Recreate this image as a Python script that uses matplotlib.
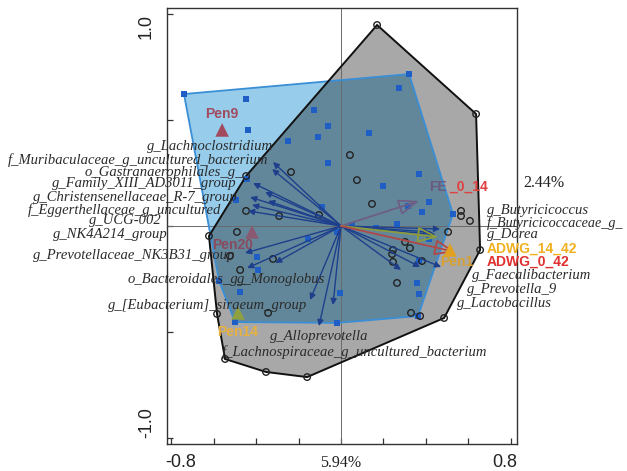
import matplotlib
matplotlib.use('Agg')
import matplotlib.pyplot as plt
import numpy as np

# sample scores, group A (blue squares)
sq_x = [-0.741, -0.448, -0.439, -0.127, -0.061, -0.108, -0.250, -0.061, -0.443,
        0.321, 0.274, 0.132, 0.368, 0.198, 0.415, 0.316, 0.382, 0.528, 0.264,
        0.165, 0.052, 0.415, -0.495, -0.090, -0.019, -0.156, -0.396, -0.392,
        -0.575, -0.476, -0.005, -0.500, -0.019, 0.368, 0.358, 0.368, 0.363]
sq_y = [0.621, 0.598, 0.452, 0.546, 0.471, 0.419, 0.400, 0.296, 0.221,
        0.715, 0.649, 0.438, 0.245, 0.188, 0.113, 0.094, 0.066, 0.056, 0.009,
        -0.009, 0.005, -0.061, 0.122, 0.089, -0.028, -0.061, -0.146, -0.207,
        -0.259, -0.311, -0.315, -0.452, -0.456, -0.165, -0.268, -0.320, -0.424]

# sample scores, group B (open circles)
ci_x = [0.170, 0.637, 0.042, -0.236, -0.448, 0.075, -0.448, -0.292, -0.104,
        -0.623, -0.491, -0.524, -0.321, -0.476, -0.585, -0.344, 0.146, 0.566,
        0.566, 0.608, 0.505, 0.302, 0.325, 0.245, 0.241, 0.382, 0.245, 0.264,
        0.330, 0.373, 0.486, 0.656, -0.547, -0.354, -0.160]
ci_y = [0.946, 0.527, 0.334, 0.254, 0.235, 0.216, 0.071, 0.047, 0.052,
        -0.047, -0.028, -0.141, -0.155, -0.207, -0.414, -0.409, 0.104, 0.071,
        0.047, 0.024, -0.028, -0.075, -0.104, -0.113, -0.132, -0.165, -0.169,
        -0.268, -0.409, -0.424, -0.433, -0.113, -0.626, -0.687, -0.711]

# species arrows
species = ['g_Lachnoclostridium', 'f_Muribaculaceae_g_uncultured_bacterium',
           'o_Gastranaerophilales_g_', 'g_Family_XIII_AD3011_group',
           'g_Christensenellaceae_R-7_group', 'f_Eggerthellaceae_g_uncultured',
           'g_UCG-002', 'g_NK4A214_group', 'g_Prevotellaceae_NK3B31_group',
           'o_Bacteroidales_g_', 'g_Monoglobus', 'g_[Eubacterium]_siraeum_group',
           'g_Alloprevotella', 'f_Lachnospiraceae_g_uncultured_bacterium',
           'g_Butyricicoccus', 'f_Butyricicoccaceae_g_', 'g_Dorea',
           'g_Faecalibacterium', 'g_Prevotella_9', 'g_Lactobacillus']
sp_x = [-0.321, -0.325, -0.415, -0.358, -0.429, -0.344, -0.420, -0.439,
        -0.453, -0.443, -0.311, -0.146, -0.038, -0.104,
        0.467, 0.420, 0.445, 0.472, 0.373, 0.283]
sp_y = [0.301, 0.268, 0.202, 0.160, 0.136, 0.118, 0.099, 0.071,
        -0.127, -0.198, -0.174, -0.348, -0.372, -0.471,
        -0.014, -0.028, -0.040, -0.193, -0.193, -0.207]

# environmental arrows
env = ['FE_0_14', 'ADWG_14_42', 'ADWG_0_42']
env_x = [0.368, 0.458, 0.538]
env_y = [0.118, -0.052, -0.122]

# supplementary samples (triangles)
pens = ['Pen9', 'Pen20', 'Pen14', 'Pen1']
pen_x = [-0.561, -0.420, -0.486, 0.514]
pen_y = [0.452, -0.028, -0.409, -0.113]


def hull(xs, ys):
    pts = sorted(set(zip(xs, ys)))

    def cross(o, a, b):
        return (a[0] - o[0]) * (b[1] - o[1]) - (a[1] - o[1]) * (b[0] - o[0])

    lower, upper = [], []
    for p in pts:
        while len(lower) >= 2 and cross(lower[-2], lower[-1], p) <= 0:
            lower.pop()
        lower.append(p)
    for p in reversed(pts):
        while len(upper) >= 2 and cross(upper[-2], upper[-1], p) <= 0:
            upper.pop()
        upper.append(p)
    return np.array(lower[:-1] + upper[:-1])


fig = plt.figure(figsize=(6.27, 4.71), dpi=100)
ax = fig.add_axes([167 / 627, 1 - 444 / 471, 350 / 627, 436 / 471])
ax.set_xlim(-0.821, 0.830)
ax.set_ylim(-1.026, 1.026)

# group envelopes
hb = hull(sq_x, sq_y)
hg = hull(ci_x, ci_y)
ax.fill(hb[:, 0], hb[:, 1], color='#97cdeb', zorder=1, lw=0)
ax.fill(hg[:, 0], hg[:, 1], color='black', alpha=0.34, zorder=2, lw=0)
ax.fill(hb[:, 0], hb[:, 1], fc='none', ec='#3a8ed6', lw=1.3, zorder=3)
ax.fill(hg[:, 0], hg[:, 1], fc='none', ec='#111111', lw=1.4, zorder=3)

ax.axvline(0, color='#6a6a6a', lw=0.7, zorder=2.5)
ax.axhline(0, color='#6a6a6a', lw=0.7, zorder=2.5)

ax.scatter(sq_x, sq_y, marker='s', s=16, color='#1f5ec4', lw=0, zorder=4)
ax.scatter(ci_x, ci_y, marker='o', s=22, facecolor='none', edgecolor='#222222',
           lw=1.0, zorder=4)

# species arrows
for x, y in zip(sp_x, sp_y):
    ax.annotate('', xy=(x, y), xytext=(0, 0), zorder=5,
                arrowprops=dict(arrowstyle='-|>', color='#1d3f8c', lw=1.0,
                                mutation_scale=9, shrinkA=0, shrinkB=0))

env_cols = ['#6e5e86', '#8c9c3c', '#b04848']
for x, y, c in zip(env_x, env_y, env_cols):
    ax.annotate('', xy=(x, y), xytext=(0, 0), zorder=5,
                arrowprops=dict(arrowstyle='-|>,head_length=0.9,head_width=0.35',
                                ec=c, fc='none', lw=1.3, mutation_scale=14,
                                shrinkA=0, shrinkB=0))

pen_cols = ['#a24a5e', '#8a5a72', '#8fa040', '#e0a020']
ax.scatter(pen_x, pen_y, marker='^', s=95, c=pen_cols, lw=0, zorder=6)

# species labels
sp_font = dict(family='Liberation Serif', style='italic', size=10.5,
               color='#2a2a2a', zorder=7, clip_on=False, va='center')
lab_pos = {
    'g_Lachnoclostridium': (-0.321, 0.376, 'right'),
    'f_Muribaculaceae_g_uncultured_bacterium': (-0.344, 0.311, 'right'),
    'o_Gastranaerophilales_g_': (-0.462, 0.254, 'right'),
    'g_Family_XIII_AD3011_group': (-0.491, 0.198, 'right'),
    'g_Christensenellaceae_R-7_group': (-0.486, 0.136, 'right'),
    'f_Eggerthellaceae_g_uncultured': (-0.566, 0.075, 'right'),
    'g_UCG-002': (-0.844, 0.024, 'right'),
    'g_NK4A214_group': (-0.816, -0.038, 'right'),
    'g_Prevotellaceae_NK3B31_group': (-0.500, -0.141, 'right'),
    'o_Bacteroidales_g_': (-1.005, -0.250, 'left'),
    'g_Monoglobus': (-0.490, -0.250, 'left'),
    'g_[Eubacterium]_siraeum_group': (-0.160, -0.372, 'right'),
    'g_Alloprevotella': (-0.335, -0.522, 'left'),
    'f_Lachnospiraceae_g_uncultured_bacterium': (-0.561, -0.593, 'left'),
    'g_Butyricicoccus': (0.689, 0.071, 'left'),
    'f_Butyricicoccaceae_g_': (0.686, 0.014, 'left'),
    'g_Dorea': (0.689, -0.042, 'left'),
    'g_Faecalibacterium': (0.618, -0.235, 'left'),
    'g_Prevotella_9': (0.594, -0.301, 'left'),
    'g_Lactobacillus': (0.547, -0.367, 'left'),
}
for name in species:
    x, y, ha = lab_pos[name]
    size = 10.2 if name == 'f_Butyricicoccaceae_g_' else 10.5
    ax.text(x, y, name, ha=ha, **{**sp_font, 'size': size})

bold = dict(family='Liberation Sans', weight='bold', size=10, va='center',
            zorder=7, clip_on=False)
ax.text(0.689, -0.108, 'ADWG_14_42', color='#f0b020', **bold)
ax.text(0.689, -0.169, 'ADWG_0_42', color='#e03030', **bold)
ax.text(0.415, 0.184, 'FE', color='#6a5a80', **bold)
ax.text(0.509, 0.184, '_0_14', color='#e04040', **bold)
ax.text(-0.561, 0.527, 'Pen9', color='#a24a5e', ha='center', **bold)
ax.text(-0.608, -0.089, 'Pen20', color='#8a4a5e', **bold)
ax.text(-0.585, -0.499, 'Pen14', color='#e8b040', **bold)
ax.text(0.467, -0.169, 'Pen1', color='#d8a030', **bold)

# axes frame and ticks
for s in ax.spines.values():
    s.set_color('#333333')
    s.set_linewidth(1.0)
ax.set_xticks(np.arange(-0.8, 0.81, 0.2))
ax.set_yticks([-1.0, -0.5, 0, 0.5, 1.0])
ax.tick_params(direction='in', length=4, width=0.9, colors='#333333',
               labelbottom=False, labelleft=False)

tick_font = dict(family='Liberation Sans', size=13, color='#222222')
base_y = 1 - 467 / 471
fig.text(165 / 627, base_y, '-0.8', ha='left', va='baseline', **tick_font)
fig.text(517 / 627, base_y, '0.8', ha='right', va='baseline', **tick_font)
fig.text(341 / 627, base_y, '5.94%', ha='center', va='baseline',
         family='Liberation Serif', size=11.5, color='#222222')
ax.text(-0.035, 1.0, '1.0', transform=ax.get_yaxis_transform(), rotation=90,
        ha='right', va='top', **tick_font)
ax.text(-0.035, -1.0, '-1.0', transform=ax.get_yaxis_transform(), rotation=90,
        ha='right', va='bottom', **tick_font)

fig.text(523 / 627, 1 - 183 / 471, '2.44%', ha='left', va='center',
         family='Liberation Serif', size=11.5, color='#222222')

fig.savefig('out.png', dpi=100)
